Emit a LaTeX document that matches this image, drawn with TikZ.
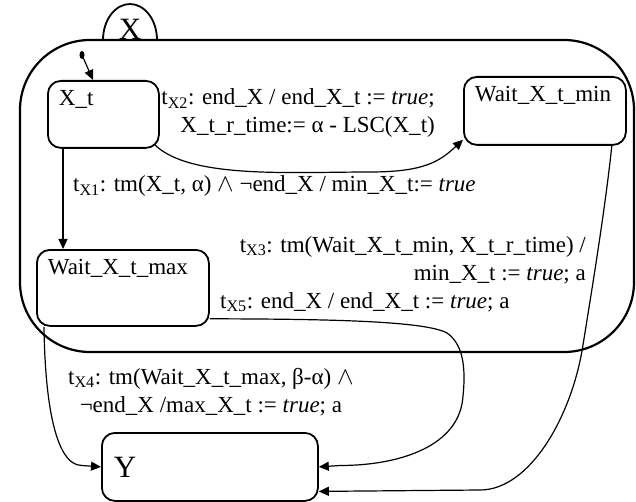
\documentclass[tikz,border=0pt]{standalone}
\usepackage{fontspec}
\setmainfont{Liberation Serif}
\usetikzlibrary{arrows.meta}

\tikzset{
  state/.style={draw, line width=1.8pt, rounded corners=13pt, anchor=north west,
    align=left, inner xsep=11pt, inner ysep=9pt, text height=16pt},
  trans/.style={line width=1.2pt, -{Triangle[length=10pt,width=9pt]}},
  guard/.style={anchor=base west, inner sep=0pt},
}

\begin{document}
\begin{tikzpicture}[x=1pt, y=1pt, font=\fontsize{23}{28}\selectfont]
  \useasboundingbox (0,0) rectangle (636,501);

  % superstate X and its name tab
  \draw[line width=2.2pt, rounded corners=70pt] (20,149) rectangle (634,461);
  \draw[line width=1.8pt] (103,461) arc[start angle=180, end angle=0, x radius=27, y radius=36];
  \node[font=\fontsize{31}{31}\selectfont] (xname) at (130,472) {X};

  % states
  \node[state, text width=89pt, text depth=33pt] (xt) at (47,421) {X\_t};
  \node[state, text width=140pt, text depth=34pt] (wmin) at (463,425) {Wait\_X\_t\_min};
  \node[state, text width=150pt, text depth=42pt] (wmax) at (36,252) {Wait\_X\_t\_max};
  \node[draw, line width=1.8pt, rounded corners=13pt, anchor=north west, align=left,
    minimum width=216pt, minimum height=68pt, text width=192pt, inner xsep=12pt,
    font=\fontsize{31}{31}\selectfont] (y) at (101,69) {Y};

  % default entry
  \coordinate (init) at (82,446);
  \fill (init) ellipse[x radius=2.5, y radius=4];
  \draw[trans] (init) -- ([xshift=46pt]xt.north west);

  % transitions
  \draw[trans] ([xshift=16pt]xt.south west) -- ([xshift=27pt]wmax.north west);
  \draw[trans] ([xshift=-5pt,yshift=4pt]xt.south east)
    .. controls (190,322) and (290,329) .. (370,329)
    .. controls (425,329) and (440,340) .. ([yshift=6pt]wmin.south west);
  \draw[trans] ([xshift=-15pt]wmin.south east)
    .. controls (605,290) and (590,200) .. (583,156)
    .. controls (572,85) and (530,11) .. (480,11) -- ([yshift=-24.5pt]y.east);
  \draw[trans] ([yshift=8pt]wmax.south east)
    .. controls (330,182) and (425,180) .. (447,168)
    .. controls (466,155) and (465,125) .. (463,105)
    .. controls (460,55) and (400,35.5) .. (340,35.5) -- (y.east);
  \draw[trans] ([xshift=8pt]wmax.south west)
    .. controls (45,100) and (55,35.5) .. (82,35.5) -- (y.west);

  % guards and actions (multi-line ones sit on their last baseline)
  \node[guard, align=right, anchor=base east] (gx2) at (435,368)
    {t\textsubscript{X2}: end\_X / end\_X\_t := \textit{true};\\
     X\_t\_r\_time:= α - LSC(X\_t)};
  \node[guard] (gx1) at (73,309)
    {t\textsubscript{X1}: tm(X\_t, α) $\wedge$ ¬end\_X / min\_X\_t:= \textit{true}};
  \node[guard, align=right, anchor=base east] (gx3) at (586,221)
    {t\textsubscript{X3}: tm(Wait\_X\_t\_min, X\_t\_r\_time) /\\
     min\_X\_t := \textit{true}; a};
  \node[guard] (gx5) at (220,193)
    {t\textsubscript{X5}: end\_X / end\_X\_t := \textit{true}; a};
  \node[guard, align=center] (gx4) at (68,89)
    {t\textsubscript{X4}: tm(Wait\_X\_t\_max, β-α) $\wedge$\\
     ¬end\_X /max\_X\_t := \textit{true}; a};
\end{tikzpicture}
\end{document}
